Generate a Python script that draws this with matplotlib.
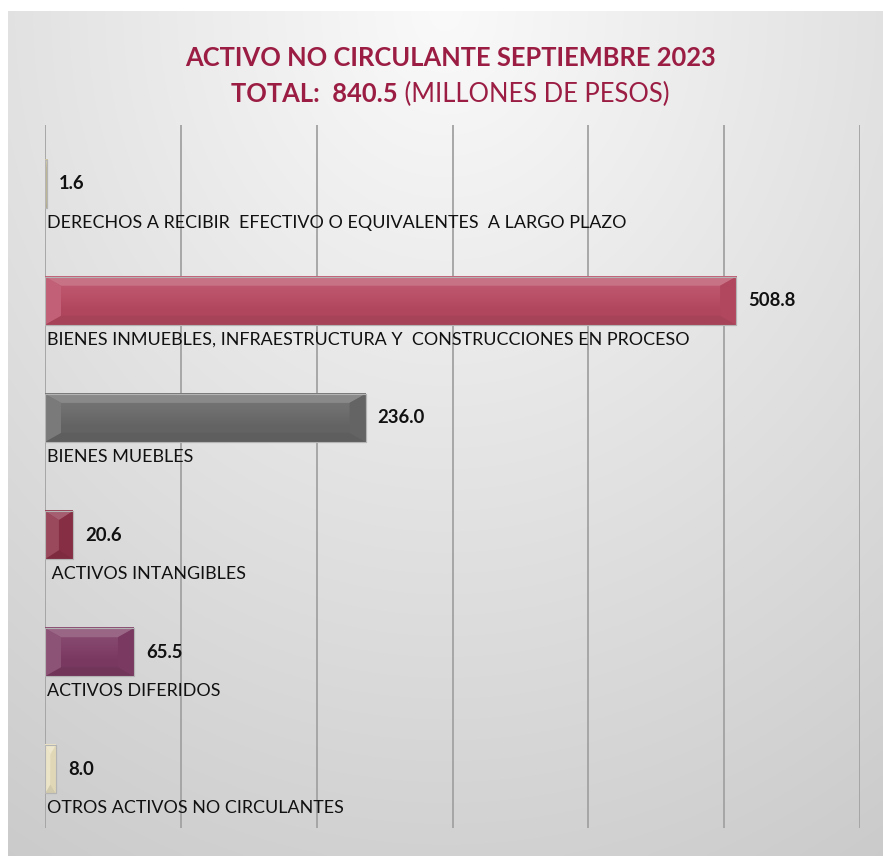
import numpy as np
import matplotlib
matplotlib.use("Agg")
import matplotlib.pyplot as plt
import matplotlib.colors as mcolors

categories = [
    "DERECHOS A RECIBIR  EFECTIVO O EQUIVALENTES  A LARGO PLAZO",
    "BIENES INMUEBLES, INFRAESTRUCTURA Y  CONSTRUCCIONES EN PROCESO",
    "BIENES MUEBLES",
    " ACTIVOS INTANGIBLES",
    "ACTIVOS DIFERIDOS",
    "OTROS ACTIVOS NO CIRCULANTES",
]
values = [1.6, 508.8, 236.0, 20.6, 65.5, 8.0]
value_labels = ["1.6", "508.8", "236.0", "20.6", "65.5", "8.0"]
bar_colors = ["#c9bf98", "#b84a63", "#686868", "#8c3047", "#7e3b64", "#e9e0bf"]
title1 = "ACTIVO NO CIRCULANTE SEPTIEMBRE 2023"
title2_bold = "TOTAL:  840.5"
title2_reg = " (MILLONES DE PESOS)"
x_max = 600
x_step = 100

W, H, DPI = 883, 856, 100
fig = plt.figure(figsize=(W / DPI, H / DPI), dpi=DPI)
fig.patch.set_facecolor("white")

# background panel gradient
bg = fig.add_axes([8 / W, 0, 1 - 8 / W, 1 - 11 / H])
bg.set_axis_off()
yy, xx = np.mgrid[0:1:300j, 0:1:300j]
r = np.sqrt(((xx - 0.5) * 1.2) ** 2 + (yy * 1.0) ** 2)
v = 0.98 - 0.19 * np.clip(r, 0, 1.2) / 1.2
bg.imshow(np.dstack([v, v, v]), aspect="auto", extent=[0, 1, 1, 0], interpolation="bicubic")
bg.set_xlim(0, 1)
bg.set_ylim(1, 0)

ax_l, ax_r, ax_t, ax_b = 45, 860, 125, 828
ax = fig.add_axes([ax_l / W, 1 - ax_b / H, (ax_r - ax_l) / W, (ax_b - ax_t) / H])
ax.set_facecolor("none")
ax.set_xlim(0, x_max)
n = len(values)
ax.set_ylim(n - 0.5, -0.5)
for s in ax.spines.values():
    s.set_visible(False)
ax.set_xticks(np.arange(0, x_max + 1, x_step))
ax.set_yticks([])
ax.tick_params(axis="x", length=0, labelbottom=False)
ax.grid(axis="x", color="#a2a2a2", linewidth=1.3)
ax.set_axisbelow(True)

px_x = x_max / (ax_r - ax_l)
px_y = n / (ax_b - ax_t)
bh = 0.41
ypos = np.arange(n)

bars = ax.barh(ypos, values, height=bh, color=bar_colors, edgecolor="#b8b8b8", linewidth=0.8, zorder=3)


def shade(c, f):
    rgb = np.array(mcolors.to_rgb(c))
    if f > 0:
        rgb = rgb + (1 - rgb) * f
    else:
        rgb = rgb * (1 + f)
    return tuple(np.clip(rgb, 0, 1))


for b, c in zip(bars, bar_colors):
    x0, y0 = b.get_x(), b.get_y()
    w, h = b.get_width(), b.get_height()
    x1, y1 = x0 + w, y0 + h
    dx = min(16 * px_x, w / 2)
    dy = min(9 * px_y, h / 2)
    # face gradient (upper part lighter)
    ax.imshow(np.linspace(0, 1, 50).reshape(-1, 1), cmap=mcolors.LinearSegmentedColormap.from_list(
        "f", [shade(c, 0.10), shade(c, 0.05), shade(c, -0.04), shade(c, -0.06)]),
        extent=[x0, x1, y1, y0], aspect="auto", zorder=3.5, interpolation="bilinear")
    ax.fill([x0, x1, x1 - dx, x0 + dx], [y0, y0, y0 + dy, y0 + dy], color=shade(c, 0.22), zorder=4, lw=0)
    ax.fill([x0, x1, x1 - dx, x0 + dx], [y1, y1, y1 - dy, y1 - dy], color=shade(c, -0.10), zorder=4, lw=0)
    ax.fill([x0, x0 + dx, x0 + dx, x0], [y0, y0 + dy, y1 - dy, y1], color=shade(c, 0.12), zorder=4, lw=0)
    ax.fill([x1, x1 - dx, x1 - dx, x1], [y0, y0 + dy, y1 - dy, y1], color=shade(c, -0.04), zorder=4, lw=0)
    ax.add_patch(plt.Rectangle((x0, y0), w, h, fill=False, edgecolor="#b4b4b4", lw=0.8, zorder=4.5))

ax.set_xlim(0, x_max)
ax.set_ylim(n - 0.5, -0.5)

for i, (v_, lab, cat) in enumerate(zip(values, value_labels, categories)):
    ax.text(v_ + 12 * px_x, i, lab, ha="left", va="center", fontsize=13.3, fontweight="bold",
            family="Lato", color="#111111", zorder=5)
    ax.text(2 * px_x, i + bh / 2 + 7 * px_y, cat, ha="left", va="top", fontsize=12.9,
            family="Lato", color="#111111", zorder=5)

tcol = "#9b1d44"
fig.text(451 / W, 1 - 58 / H, title1, ha="center", va="center", fontsize=18.4, fontweight="bold",
         family="Lato", color=tcol)

fig.canvas.draw()
rend = fig.canvas.get_renderer()
tb = fig.text(0, 1 - 94 / H, title2_bold, ha="left", va="center", fontsize=18.4, fontweight="bold",
              family="Lato", color=tcol)
tr = fig.text(0, 1 - 94 / H, title2_reg, ha="left", va="center", fontsize=18.4,
              family="Lato", color=tcol)
wb = tb.get_window_extent(rend).width
wr = tr.get_window_extent(rend).width
start = 450 - (wb + wr) / 2
tb.set_x(start / W)
tr.set_x((start + wb) / W)

fig.savefig("out.png", dpi=DPI)
